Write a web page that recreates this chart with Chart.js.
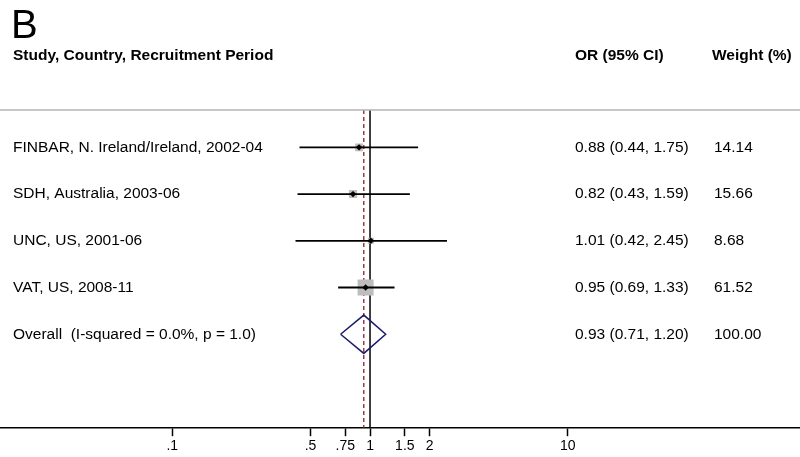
<!DOCTYPE html>
<html>
<head>
<meta charset="utf-8">
<script src="https://cdn.jsdelivr.net/npm/chart.js@4/dist/chart.umd.min.js"></script>
<style>
    html, body { margin: 0; padding: 0; background: #fff; }
    #wrap { width: 800px; height: 457px; position: relative; }
</style>
</head>
<body>
<div id="wrap"><canvas id="forest"></canvas></div>
<script>
// Study rows
const studies = [
    'FINBAR, N. Ireland/Ireland, 2002-04',
    'SDH, Australia, 2003-06',
    'UNC, US, 2001-06',
    'VAT, US, 2008-11'
];
const oddsRatios = [0.88, 0.82, 1.01, 0.95];
const ciLow = [0.44, 0.43, 0.42, 0.69];
const ciHigh = [1.75, 1.59, 2.45, 1.33];
const weights = [14.14, 15.66, 8.68, 61.52];

// Pooled estimate
const overallLabel = 'Overall  (I-squared = 0.0%, p = 1.0)';
const overallOR = 0.93;
const overallLow = 0.71;
const overallHigh = 1.20;
const overallWeight = 100.00;

// Axis ticks
const tickValues = [0.1, 0.5, 0.75, 1, 1.5, 2, 10];
const tickLabels = ['.1', '.5', '.75', '1', '1.5', '2', '10'];

const FONT = "'Liberation Sans', Arial, sans-serif";
const overallRow = studies.length;
const topRule = -0.8;   // y value of the grey header rule
const yMin = -3.154, yMax = 6.011;

// CI lines, one dataset per study
const ciSets = studies.map((s, i) => ({
    type: 'line',
    data: [{ x: ciLow[i], y: i }, { x: ciHigh[i], y: i }],
    borderColor: '#000',
    borderWidth: 1.8,
    pointRadius: 0,
    order: 2
}));

// Reference lines: no effect (1) and pooled estimate (dashed)
const refSets = [
    {
        type: 'line',
        data: [{ x: 1, y: topRule }, { x: 1, y: yMax }],
        borderColor: '#000',
        borderWidth: 1.5,
        pointRadius: 0,
        order: 5
    },
    {
        type: 'line',
        data: [{ x: overallOR, y: topRule }, { x: overallOR, y: yMax }],
        borderColor: '#8b1c2a',
        borderWidth: 1.3,
        borderDash: [4, 3],
        pointRadius: 0,
        order: 5
    }
];

// Diamond for overall estimate
const dh = 0.41;
const diamondSet = {
    type: 'line',
    data: [
        { x: overallLow, y: overallRow },
        { x: overallOR, y: overallRow - dh },
        { x: overallHigh, y: overallRow },
        { x: overallOR, y: overallRow + dh },
        { x: overallLow, y: overallRow }
    ],
    borderColor: '#1c1c6e',
    borderWidth: 1.5,
    pointRadius: 0,
    tension: 0,
    fill: false,
    order: 2
};

// Weight boxes (area proportional to weight)
const boxSet = {
    type: 'scatter',
    data: oddsRatios.map((v, i) => ({ x: v, y: i })),
    pointStyle: 'rect',
    pointRadius: weights.map(w => 2.04 * Math.sqrt(w) / Math.SQRT2),
    backgroundColor: '#bdbdbd',
    borderWidth: 0,
    order: 3
};

// Point estimates
const dotSet = {
    type: 'scatter',
    data: oddsRatios.map((v, i) => ({ x: v, y: i })),
    pointStyle: 'rectRot',
    pointRadius: 3.2,
    backgroundColor: '#000',
    borderWidth: 0,
    order: 1
};

// Text columns and header rule
const tablePlugin = {
    id: 'forestTable',
    afterDraw(chart) {
        const ctx = chart.ctx;
        const y = chart.scales.y;
        const x = chart.scales.x;
        ctx.save();

        // grey rule under the header
        ctx.strokeStyle = '#b4b4b4';
        ctx.lineWidth = 1.5;
        ctx.beginPath();
        ctx.moveTo(x.left, y.getPixelForValue(topRule));
        ctx.lineTo(x.right, y.getPixelForValue(topRule));
        ctx.stroke();

        ctx.fillStyle = '#000';
        ctx.textAlign = 'left';
        ctx.textBaseline = 'middle';

        ctx.font = '40px ' + FONT;
        ctx.fillText('B', 11, y.getPixelForValue(-2.66) + 4);

        ctx.font = 'bold 15.5px ' + FONT;
        const hy = y.getPixelForValue(-2) + 2;
        ctx.fillText('Study, Country, Recruitment Period', 13, hy);
        ctx.fillText('OR (95% CI)', 575, hy);
        ctx.fillText('Weight (%)', 712, hy);

        ctx.font = '15.5px ' + FONT;
        studies.forEach((s, i) => {
            const py = y.getPixelForValue(i);
            ctx.fillText(s, 13, py);
            ctx.fillText(oddsRatios[i].toFixed(2) + ' (' + ciLow[i].toFixed(2) + ', ' + ciHigh[i].toFixed(2) + ')', 575, py);
            ctx.fillText(weights[i].toFixed(2), 714, py);
        });
        const oy = y.getPixelForValue(overallRow);
        ctx.fillText(overallLabel, 13, oy);
        ctx.fillText(overallOR.toFixed(2) + ' (' + overallLow.toFixed(2) + ', ' + overallHigh.toFixed(2) + ')', 575, oy);
        ctx.fillText(overallWeight.toFixed(2), 714, oy);

        ctx.restore();
    }
};

new Chart(document.getElementById('forest'), {
    data: {
        datasets: [...refSets, boxSet, ...ciSets, diamondSet, dotSet]
    },
    options: {
        responsive: true,
        maintainAspectRatio: false,
        animation: false,
        layout: { padding: 0, autoPadding: false },
        plugins: {
            legend: { display: false },
            tooltip: { enabled: false }
        },
        scales: {
            x: {
                type: 'logarithmic',
                min: 0.013465,
                max: 149.25,
                afterBuildTicks: scale => {
                    scale.ticks = tickValues.map(v => ({ value: v }));
                },
                grid: {
                    drawOnChartArea: false,
                    drawTicks: true,
                    tickLength: 8,
                    tickWidth: 1.5,
                    tickColor: '#000'
                },
                border: { display: true, color: '#000', width: 1.5 },
                ticks: {
                    autoSkip: false,
                    maxRotation: 0,
                    padding: 2,
                    color: '#000',
                    font: { family: FONT, size: 14 },
                    callback: value => tickLabels[tickValues.indexOf(value)]
                }
            },
            y: {
                type: 'linear',
                display: false,
                reverse: true,
                min: yMin,
                max: yMax
            }
        }
    },
    plugins: [tablePlugin]
});
</script>
</body>
</html>
